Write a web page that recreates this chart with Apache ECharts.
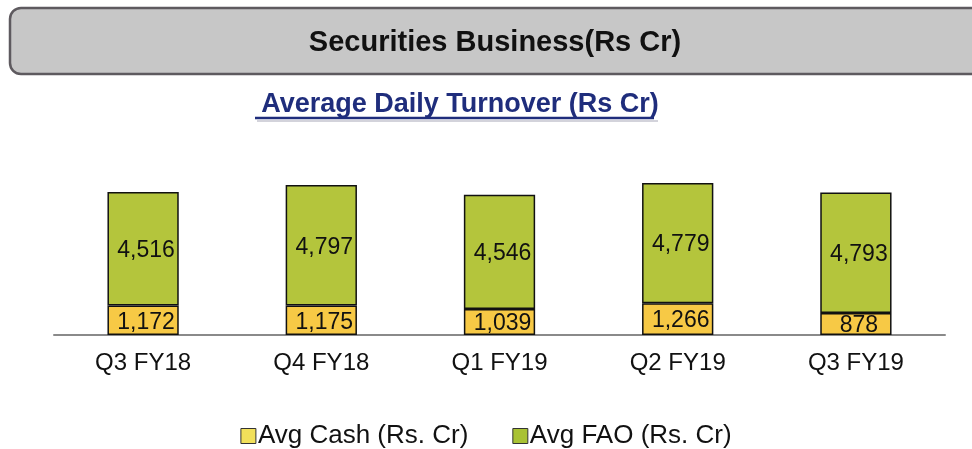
<!DOCTYPE html>
<html>
<head>
<meta charset="utf-8">
<script src="https://cdn.jsdelivr.net/npm/echarts@6/dist/echarts.min.js"></script>
<style>
html,body{margin:0;padding:0;background:#fff;}
#c{width:972px;height:449px;}
</style>
</head>
<body>
<div id="c"></div>
<script>
const categories = ['Q3 FY18', 'Q4 FY18', 'Q1 FY19', 'Q2 FY19', 'Q3 FY19'];
const avgCash = [1172, 1175, 1039, 1266, 878];
const avgFAO = [4516, 4797, 4546, 4779, 4793];
const seriesNames = ['Avg Cash (Rs. Cr)', 'Avg FAO (Rs. Cr)'];
const headerTitle = 'Securities Business(Rs Cr)';
const chartTitle = 'Average Daily Turnover (Rs Cr)';

const chart = echarts.init(document.getElementById('c'), null, {renderer: 'canvas'});
const fmt = v => Number(v).toLocaleString('en-US');
const FONT = 'Liberation Sans, Arial, sans-serif';

chart.setOption({
  backgroundColor: '#ffffff',
  animation: false,
  title: {
    text: chartTitle,
    left: 455, top: 86, textAlign: 'center',
    textStyle: {color: '#1f2d7c', fontSize: 27, fontWeight: 'bold', fontFamily: FONT}
  },
  graphic: [
    {type: 'rect', shape: {x: 10, y: 8, width: 990, height: 66, r: 11},
     style: {fill: '#c7c7c7', stroke: '#5e5a5f', lineWidth: 2.5}, z: 1},
    {type: 'text', x: 495, y: 43, z: 2,
     style: {text: headerTitle, fill: '#111', font: 'bold 29px Liberation Sans, Arial, sans-serif', textAlign: 'center', textVerticalAlign: 'middle'}},
    {type: 'line', shape: {x1: 255, y1: 118, x2: 654, y2: 118},
     style: {stroke: '#1f2d7c', lineWidth: 2.5}, z: 2},
    {type: 'line', shape: {x1: 257, y1: 121, x2: 658, y2: 121},
     style: {stroke: 'rgba(80,80,110,0.25)', lineWidth: 2}, z: 1}
  ],
  grid: {left: 54, right: 27, top: 134, bottom: 114, containLabel: false},
  legend: {
    top: 418, left: 'center',
    itemWidth: 15, itemHeight: 15, itemGap: 44,
    icon: 'rect',
    data: [
      {name: seriesNames[0], itemStyle: {color: '#f2e05a', borderColor: '#333', borderWidth: 1}},
      {name: seriesNames[1], itemStyle: {color: '#a9c233', borderColor: '#333', borderWidth: 1}}
    ],
    textStyle: {fontSize: 26, color: '#111', fontFamily: FONT, padding: [0, 0, 0, -3]}
  },
  xAxis: {
    type: 'category', data: categories,
    axisLine: {show: true, lineStyle: {color: '#8a8a8a', width: 2}},
    axisTick: {show: false},
    axisLabel: {fontSize: 24, color: '#111', margin: 16, fontFamily: FONT}
  },
  yAxis: {
    type: 'value', min: 0, max: 8000, show: false,
    splitLine: {show: false}
  },
  series: [
    {
      name: seriesNames[0], type: 'bar', stack: 'total', barWidth: '40%',
      data: avgCash,
      itemStyle: {color: '#f7c945', borderColor: '#111', borderWidth: 1.5},
      label: {show: true, position: 'inside', offset: [3, 2], formatter: p => fmt(p.value),
              fontSize: 23, color: '#111', fontFamily: FONT}
    },
    {
      name: seriesNames[1], type: 'bar', stack: 'total', barWidth: '40%',
      data: avgFAO,
      itemStyle: {color: '#b4c53c', borderColor: '#111', borderWidth: 1.5},
      label: {show: true, position: 'inside', offset: [3, 2], formatter: p => fmt(p.value),
              fontSize: 23, color: '#111', fontFamily: FONT}
    }
  ]
});
</script>
</body>
</html>
